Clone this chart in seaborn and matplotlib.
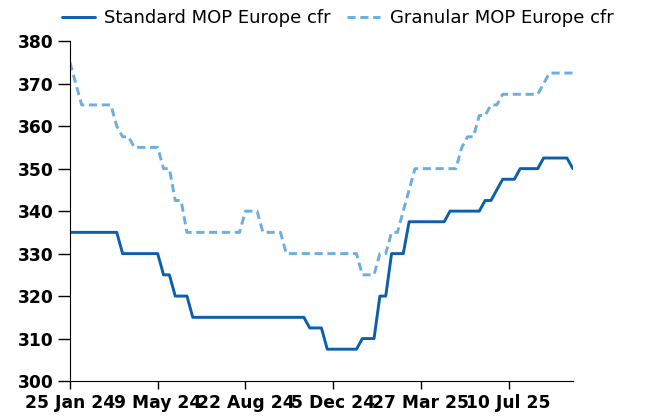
import matplotlib
matplotlib.use('Agg')
import numpy as np
import pandas as pd
import matplotlib.pyplot as plt
import seaborn as sns

# weekly prices, USD/t
standard = [335, 335, 335, 335, 335, 335, 335, 335, 335,
            330, 330, 330, 330, 330, 330, 330,
            325, 325,
            320, 320, 320,
            315, 315, 315, 315, 315, 315, 315, 315, 315, 315,
            315, 315, 315, 315, 315, 315, 315, 315, 315, 315,
            312.5, 312.5, 312.5,
            307.5, 307.5, 307.5, 307.5, 307.5, 307.5,
            310, 310, 310,
            320, 320,
            330, 330, 330,
            337.5, 337.5, 337.5, 337.5, 337.5, 337.5, 337.5,
            340, 340, 340, 340, 340, 340,
            342.5, 342.5,
            345,
            347.5, 347.5, 347.5,
            350, 350, 350, 350,
            352.5, 352.5, 352.5, 352.5, 352.5,
            350]
granular = [375, 370,
            365, 365, 365, 365, 365, 365,
            360,
            357.5, 357.5,
            355, 355, 355, 355, 355,
            350, 350,
            342.5, 342.5,
            335, 335, 335, 335, 335, 335, 335, 335, 335, 335,
            340, 340, 340,
            335, 335, 335, 335,
            330, 330, 330, 330, 330, 330, 330, 330, 330, 330, 330, 330, 330,
            325, 325, 325,
            330, 330,
            335, 335,
            340,
            345,
            350, 350, 350, 350, 350, 350, 350, 350,
            355,
            357.5, 357.5,
            362.5, 362.5,
            365, 365,
            367.5, 367.5, 367.5, 367.5, 367.5, 367.5, 367.5,
            370,
            372.5, 372.5, 372.5, 372.5, 372.5]
tick_labels = ["25 Jan 24", "9 May 24", "22 Aug 24", "5 Dec 24", "27 Mar 25", "10 Jul 25"]
tick_step = 15

df = pd.DataFrame({"week": np.arange(len(standard)),
                   "Standard MOP Europe cfr": standard,
                   "Granular MOP Europe cfr": granular})

sns.set_style("ticks")
plt.rcParams['font.family'] = ['DejaVu Sans']
plt.rcParams['text.color'] = 'black'
plt.rcParams['xtick.color'] = 'black'
plt.rcParams['ytick.color'] = 'black'

fig = plt.figure(figsize=(6.48, 4.16), dpi=100)
ax = fig.add_axes([0.108, 0.084, 0.776, 0.817])

sns.lineplot(data=df, x="week", y="Standard MOP Europe cfr", ax=ax,
             color="#0b5fac", linewidth=2.1, label="Standard MOP Europe cfr")
sns.lineplot(data=df, x="week", y="Granular MOP Europe cfr", ax=ax,
             color="#6aaee2", linewidth=2.1, linestyle=(0, (2.8, 1.6)),
             label="Granular MOP Europe cfr")

ax.set_xlim(0, len(standard) - 1)
ax.set_ylim(300, 380)
ax.set_yticks(np.arange(300, 381, 10))
ax.set_xticks(np.arange(0, len(standard), tick_step))
ax.set_xticklabels(tick_labels)
ax.set_xlabel("")
ax.set_ylabel("")
ax.tick_params(axis='y', labelsize=12.3, length=9, width=1, pad=3)
ax.tick_params(axis='x', labelsize=12.3, length=6, width=1, pad=3.5)
for lab in ax.get_xticklabels() + ax.get_yticklabels():
    lab.set_fontweight('bold')
sns.despine(ax=ax)
ax.spines['left'].set_color('black')
ax.spines['bottom'].set_color('black')

handles, labels = ax.get_legend_handles_labels()
ax.get_legend().remove()
fig.legend(handles, labels, loc='center left', bbox_to_anchor=(62 / 648, 0.957),
           ncol=2, frameon=False, fontsize=13, borderpad=0, borderaxespad=0,
           handlelength=1.8, columnspacing=0.9, handletextpad=0.55)

plt.savefig("out.png", dpi=100)
plt.close()
